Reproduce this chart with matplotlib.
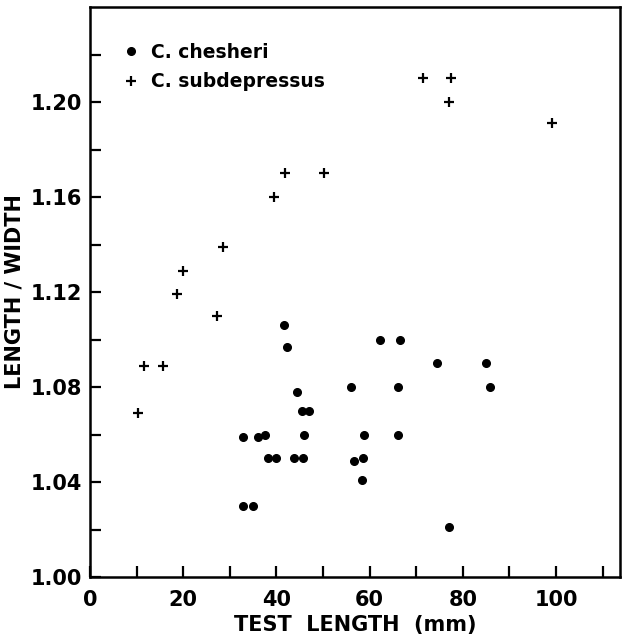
import numpy as np
import matplotlib
matplotlib.use('Agg')
import matplotlib.pyplot as plt

plt.rcParams['font.family'] = ['DejaVu Sans']
plt.rcParams['font.weight'] = 'bold'

# C. chesheri (dots)
ches_len = [41.6, 42.3, 44.4, 45.5, 47.0, 45.9, 32.8, 36.1, 37.6, 38.2,
            39.9, 43.8, 45.7, 32.8, 35.0, 62.2, 66.5, 74.5, 85.0, 85.8,
            56.0, 66.1, 58.8, 66.1, 56.7, 58.5, 58.4, 77.0]
ches_ratio = [1.106, 1.097, 1.078, 1.070, 1.070, 1.060, 1.059, 1.059, 1.060, 1.050,
              1.050, 1.050, 1.050, 1.030, 1.030, 1.100, 1.100, 1.090, 1.090, 1.080,
              1.080, 1.080, 1.060, 1.060, 1.049, 1.050, 1.041, 1.021]

# C. subdepressus (crosses)
subd_len = [41.8, 50.2, 39.5, 28.6, 19.9, 18.6, 27.3, 11.6, 15.7, 10.4,
            71.4, 77.4, 77.0, 99.1]
subd_ratio = [1.170, 1.170, 1.160, 1.139, 1.129, 1.119, 1.110, 1.089, 1.089, 1.069,
              1.210, 1.210, 1.200, 1.191]

fig = plt.figure(figsize=(6.22, 6.43), dpi=100)
ax = fig.add_axes([0.1447, 0.1026, 0.852, 0.8865])

ax.plot(ches_len, ches_ratio, 'o', color='black', markersize=5.5,
        label='C. chesheri')
ax.plot(subd_len, subd_ratio, '+', color='black', markersize=7,
        markeredgewidth=1.6, label='C. subdepressus')

ax.set_xlim(0, 113.7)
ax.set_ylim(1.00, 1.24)
ax.set_xticks(np.arange(0, 101, 20))
ax.set_xticks(np.arange(10, 111, 20), minor=True)
ax.set_yticks(np.arange(1.00, 1.201, 0.04))
ax.set_yticks(np.arange(1.02, 1.221, 0.04), minor=True)
ax.set_yticklabels(['1.00', '1.04', '1.08', '1.12', '1.16', '1.20'])
ax.tick_params(which='both', direction='in', length=8, width=1.6,
               labelsize=15, pad=6)
ax.tick_params(axis='x', pad=9)
for s in ax.spines.values():
    s.set_linewidth(1.8)

ax.set_xlabel('TEST  LENGTH  (mm)', fontsize=15, fontweight='bold', labelpad=4)
ax.set_ylabel('LENGTH / WIDTH', fontsize=15, fontweight='bold', labelpad=4)

ax.legend(loc='upper left', bbox_to_anchor=(0.024, 0.97), frameon=False,
          fontsize=13.5, handlelength=1.0, handletextpad=0.6,
          labelspacing=0.55, borderaxespad=0.6)

fig.savefig('out.png', dpi=100)
